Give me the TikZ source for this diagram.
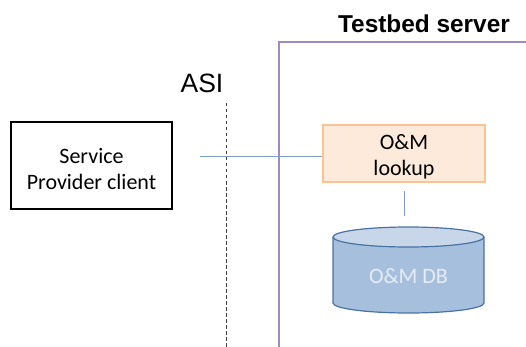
\documentclass[tikz,border=0pt]{standalone}
\usepackage{fontspec}
\setmainfont{Carlito}
\newfontfamily\arialf{Liberation Sans}
\definecolor{purp}{HTML}{A08AC4}
\definecolor{orfill}{HTML}{FDEADA}
\definecolor{ordraw}{HTML}{FAC595}
\definecolor{lnk}{HTML}{7FA0CE}
\definecolor{dbbody}{HTML}{A6BFDD}
\definecolor{dbtop}{HTML}{C8D6EA}
\definecolor{dbdraw}{HTML}{4A72A2}
\definecolor{dbtext}{HTML}{E6ECF5}
\tikzset{
  spbox/.style={draw=black, line width=1.1pt, minimum width=161pt, minimum height=87pt, inner sep=0pt},
  lookbox/.style={draw=ordraw, fill=orfill, line width=1.2pt, minimum width=162pt, minimum height=57pt, inner sep=0pt},
  boxtext/.style={align=center, font=\fontsize{22}{26.5}\selectfont, inner sep=0pt},
  link/.style={draw=lnk, line width=0.9pt},
}
\begin{document}
\begin{tikzpicture}[x=1pt,y=-1pt]
\useasboundingbox (0,0) rectangle (526,347);
% server frame
\draw[purp, line width=1.6pt] (526,42) -- (279,42) -- (279,347);
\node[font=\arialf\bfseries\fontsize{24.4}{28}\selectfont, anchor=center] (srv) at (424,24) {Testbed server};
% ASI
\node[font=\arialf\fontsize{26.5}{30}\selectfont] (asi) at (202,83) {ASI};
\coordinate (asitop) at (226,103);
\coordinate (asibot) at (226,347);
\draw[black!75, line width=1pt, dash pattern=on 3.5pt off 2.5pt] (asitop) -- (asibot);
% boxes
\node[spbox] (sp) at (91.5,165.5) {};
\node[boxtext] (spt) at (91.5,169) {Service\\Provider client};
\node[lookbox] (look) at (404,153.5) {};
\node[boxtext] (lookt) at (404,157) {O\&M\\lookup};
% database cylinder
\fill[dbbody] (333,237) -- (333,303) arc[start angle=180, end angle=0, x radius=75.5, y radius=10] -- (484,237) arc[start angle=360, end angle=180, x radius=75.5, y radius=10] -- cycle;
\fill[dbtop] (408.5,237) ellipse[x radius=75.5, y radius=10];
\draw[dbdraw, line width=1.2pt] (333,237) -- (333,303) arc[start angle=180, end angle=0, x radius=75.5, y radius=10] -- (484,237);
\draw[dbdraw, line width=1.2pt] (408.5,237) ellipse[x radius=75.5, y radius=10];
\node[font=\fontsize{22}{26}\selectfont, text=dbtext, minimum width=151pt, minimum height=76pt, inner sep=0pt] (db) at (408.5,276.5) {O\&M DB};
% connectors
\coordinate (spout) at ([xshift=27pt]sp.east);
\coordinate (lookin) at ([yshift=-2.5pt]look.west);
\draw[link] (spout |- lookin) -- (lookin);
\draw[link] ([yshift=-8pt]look.south) -- ([yshift=22pt]db.north -| look.south);
\end{tikzpicture}
\end{document}
